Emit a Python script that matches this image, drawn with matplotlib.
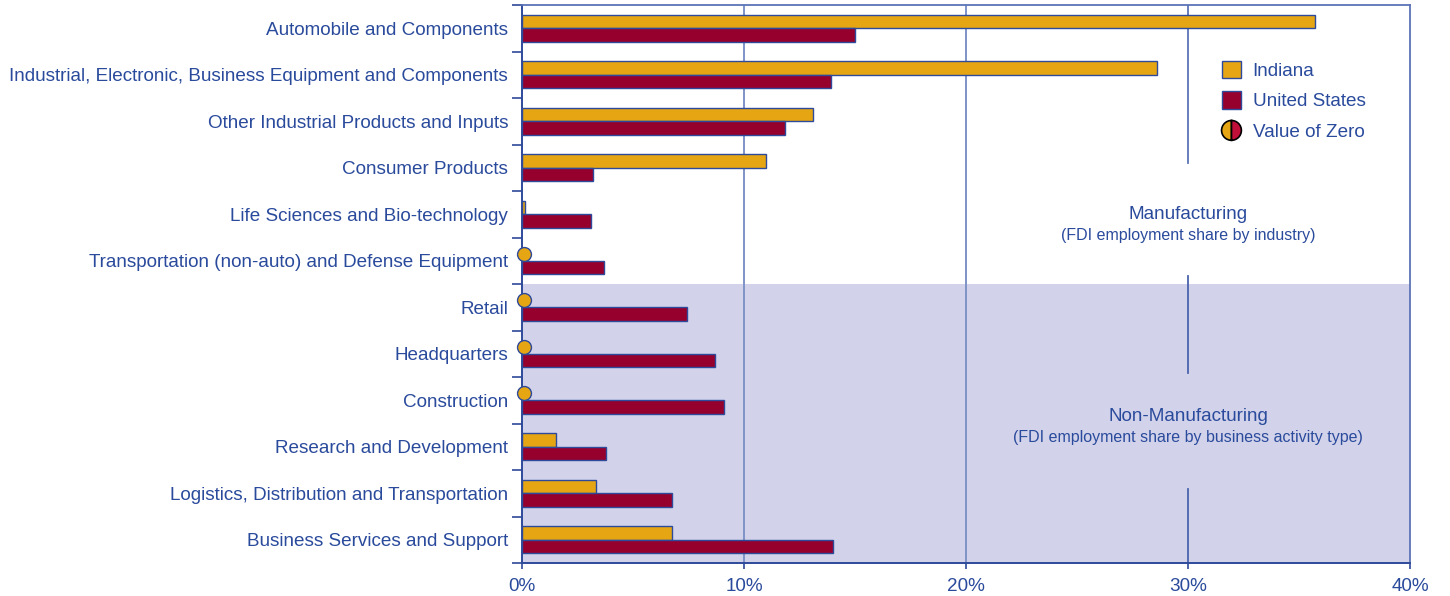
import numpy as np
import matplotlib
matplotlib.use("Agg")
from matplotlib import pyplot as plt
from matplotlib.patches import Patch, Circle, Wedge
from matplotlib.legend_handler import HandlerBase

plt.rcParams["font.family"] = ["Liberation Sans", "DejaVu Sans"]

# data (share of FDI employment, %)
categories = [
    "Automobile and Components",
    "Industrial, Electronic, Business Equipment and Components",
    "Other Industrial Products and Inputs",
    "Consumer Products",
    "Life Sciences and Bio-technology",
    "Transportation (non-auto) and Defense Equipment",
    "Retail",
    "Headquarters",
    "Construction",
    "Research and Development",
    "Logistics, Distribution and Transportation",
    "Business Services and Support",
]
indiana = [35.7, 28.6, 13.1, 11.0, 0.15, 0, 0, 0, 0, 1.55, 3.35, 6.75]
united_states = [15.0, 13.9, 11.85, 3.2, 3.1, 3.7, 7.45, 8.7, 9.1, 3.8, 6.75, 14.0]

IN_COLOR = "#E6A614"
US_COLOR = "#96002D"
EDGE = "#2E4A9A"
TEXT = "#2A4A9C"
GRID = "#7F93C8"
SHADE = "#D2D3EA"
FS = 13.6


class HalfCircleHandler(HandlerBase):
    def create_artists(self, legend, orig_handle, xdescent, ydescent,
                       width, height, fontsize, trans):
        r = max(width, height) / 2
        cx = width / 2 - xdescent
        cy = height / 2 - ydescent
        left = Wedge((cx, cy), r, 90, 270, facecolor=IN_COLOR,
                     edgecolor="black", lw=1.2, transform=trans)
        right = Wedge((cx, cy), r, 270, 90, facecolor="#C0103A",
                      edgecolor="black", lw=1.2, transform=trans)
        return [left, right]


fig = plt.figure(figsize=(14.5, 5.96), dpi=100)
ax = fig.add_axes([522 / 1450, 1 - 563 / 596, 888 / 1450, 558 / 596])

y = np.arange(len(categories))
h = 0.29
off = 0.148

# shaded non-manufacturing region
ax.axhspan(5.5, 11.5, color=SHADE, zorder=0, lw=0)

# vertical gridlines
for xv in [10, 20]:
    ax.axvline(xv, color=GRID, lw=1.4, zorder=1)
ax.plot([30, 30], [-0.5, 2.89], color="#5B74B8", lw=1.3, zorder=1)
ax.plot([30, 30], [5.33, 7.41], color="#4A64AE", lw=1.3, zorder=1)
ax.plot([30, 30], [9.91, 11.5], color="#4A64AE", lw=1.3, zorder=1)

ind_vals = np.array(indiana)
ax.barh(y - off, ind_vals, height=h, color=IN_COLOR, edgecolor=EDGE,
        linewidth=1, zorder=3)
ax.barh(y + off, united_states, height=h, color=US_COLOR, edgecolor=EDGE,
        linewidth=1, zorder=3)

zeros = y[ind_vals == 0]
ax.scatter(np.full(len(zeros), 0.1), zeros - off, s=100, color=IN_COLOR,
           edgecolor=EDGE, linewidth=1, zorder=5, clip_on=False)

ax.set_xlim(0, 40)
ax.set_ylim(11.5, -0.5)

ax.set_xticks([0, 10, 20, 30, 40])
ax.set_xticklabels(["0%", "10%", "20%", "30%", "40%"])
ax.set_yticks(y)
ax.set_yticklabels(categories)
ax.set_yticks(np.arange(-0.5, 12, 1), minor=True)
ax.tick_params(axis="y", which="major", length=0, pad=10, labelsize=FS,
               labelcolor=TEXT)
ax.tick_params(axis="y", which="minor", length=7, width=1.2, color=EDGE)
ax.tick_params(axis="x", length=4, width=1.2, color=EDGE, pad=7,
               labelsize=FS, labelcolor=TEXT)

for s in ["left", "bottom"]:
    ax.spines[s].set_color(EDGE)
    ax.spines[s].set_linewidth(1.4)
for s in ["top", "right"]:
    ax.spines[s].set_color("#5C74B6")
    ax.spines[s].set_linewidth(1.3)

# region labels
ax.text(30, 4.0, "Manufacturing", ha="center", va="center", fontsize=FS,
        color=TEXT)
ax.text(30, 4.45, "(FDI employment share by industry)", ha="center",
        va="center", fontsize=11.5, color=TEXT)
ax.text(30, 8.36, "Non-Manufacturing", ha="center", va="center",
        fontsize=FS, color=TEXT)
ax.text(30, 8.81, "(FDI employment share by business activity type)",
        ha="center", va="center", fontsize=11.5, color=TEXT)

handles = [
    Patch(facecolor=IN_COLOR, edgecolor=EDGE, lw=1),
    Patch(facecolor=US_COLOR, edgecolor=EDGE, lw=1),
    Circle((0, 0), 1),
]
leg = ax.legend(handles, ["Indiana", "United States", "Value of Zero"],
                handler_map={Circle: HalfCircleHandler()},
                loc="upper left",
                bbox_to_anchor=((1222 - 522) / 888 - 0.009, 1 - (53 - 5) / 558),
                frameon=False, fontsize=FS, handlelength=1.05,
                handleheight=1.05, handletextpad=0.6, labelspacing=0.6,
                borderaxespad=0)
for t in leg.get_texts():
    t.set_color(TEXT)

fig.savefig("out.png", dpi=100)
